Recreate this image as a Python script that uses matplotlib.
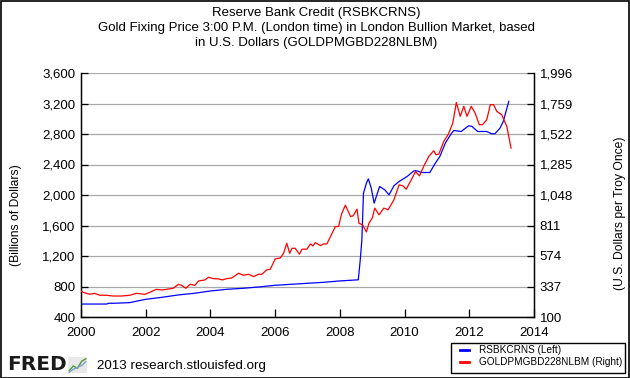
import matplotlib
matplotlib.use("Agg")
import matplotlib.pyplot as plt
from matplotlib.patches import Rectangle
from matplotlib.ticker import FuncFormatter

plt.rcParams['font.family'] = ['Liberation Sans', 'DejaVu Sans']

title_lines = ["Reserve Bank Credit (RSBKCRNS)",
               "Gold Fixing Price 3:00 P.M. (London time) in London Bullion Market, based",
               "in U.S. Dollars (GOLDPMGBD228NLBM)"]
left_label = "(Billions of Dollars)"
right_label = "(U.S. Dollars per Troy Once)"
legend_labels = ["RSBKCRNS (Left)", "GOLDPMGBD228NLBM (Right)"]

x_ticks = [2000, 2002, 2004, 2006, 2008, 2010, 2012, 2014]
left_ticks = [400, 800, 1200, 1600, 2000, 2400, 2800, 3200, 3600]
right_ticks = [100, 337, 574, 811, 1048, 1285, 1522, 1759, 1996]

rsbk_years = [2000.0, 2000.8, 2000.85, 2001.0, 2001.5, 2002.0, 2002.5, 2003.0, 2003.5,
              2004.0, 2004.5, 2005.0, 2005.5, 2006.0, 2006.5, 2007.0, 2007.5, 2008.0,
              2008.5, 2008.57, 2008.63, 2008.68, 2008.73, 2008.82, 2008.88, 2008.97,
              2009.06, 2009.16, 2009.23, 2009.39, 2009.52, 2009.67, 2009.83, 2010.08,
              2010.29, 2010.37, 2010.54, 2010.78, 2010.95, 2011.09, 2011.26, 2011.42,
              2011.52, 2011.75, 2011.98, 2012.08, 2012.26, 2012.54, 2012.69, 2012.79,
              2012.95, 2013.05, 2013.22]
rsbk_values = [570, 570, 580, 580, 588, 632, 658, 689, 711,
               741, 763, 776, 794, 816, 829, 842, 855, 873,
               886, 888, 1148, 1411, 2024, 2155, 2212, 2090,
               1892, 2024, 2111, 2067, 2002, 2120, 2177, 2243,
               2317, 2317, 2295, 2295, 2417, 2505, 2680, 2790,
               2846, 2833, 2908, 2900, 2833, 2833, 2803, 2803,
               2877, 2965, 3228]

gold_years = [2000.0, 2000.06, 2000.27, 2000.42, 2000.58, 2000.79, 2000.99, 2001.25,
              2001.51, 2001.71, 2001.97, 2002.13, 2002.33, 2002.49, 2002.64, 2002.85,
              2003.01, 2003.11, 2003.24, 2003.37, 2003.52, 2003.63, 2003.83, 2003.94,
              2004.09, 2004.25, 2004.37, 2004.5, 2004.66, 2004.87, 2005.02, 2005.18,
              2005.33, 2005.49, 2005.59, 2005.74, 2005.85, 2006.0, 2006.16, 2006.26,
              2006.36, 2006.45, 2006.52, 2006.62, 2006.75, 2006.83, 2006.98, 2007.09,
              2007.17, 2007.24, 2007.4, 2007.5, 2007.6, 2007.76, 2007.86, 2007.96,
              2008.05, 2008.17, 2008.33, 2008.41, 2008.53, 2008.59, 2008.7, 2008.82,
              2008.9, 2009.0, 2009.08, 2009.21, 2009.36, 2009.49, 2009.67, 2009.83,
              2009.95, 2010.05, 2010.18, 2010.34, 2010.46, 2010.59, 2010.75, 2010.9,
              2010.97, 2011.06, 2011.21, 2011.36, 2011.49, 2011.6, 2011.72, 2011.83,
              2011.93, 2012.06, 2012.18, 2012.31, 2012.41, 2012.54, 2012.65, 2012.75,
              2012.85, 2013.0, 2013.16, 2013.29]
gold_values = [302, 292, 276, 284, 269, 269, 263, 263,
               269, 284, 276, 292, 315, 310, 315, 323,
               354, 346, 323, 354, 346, 380, 388, 409,
               398, 396, 388, 398, 403, 440, 424, 432,
               414, 432, 432, 466, 471, 551, 559, 595,
               673, 595, 634, 634, 588, 627, 627, 668,
               652, 678, 655, 668, 668, 751, 803, 803,
               899, 969, 881, 886, 938, 829, 816, 761,
               829, 868, 946, 894, 946, 933, 1010, 1127,
               1119, 1093, 1153, 1231, 1197, 1270, 1348, 1392,
               1361, 1366, 1464, 1524, 1607, 1767, 1659, 1737,
               1659, 1737, 1685, 1594, 1594, 1633, 1750, 1750,
               1698, 1672, 1581, 1412]

W, H = 630, 378
fig = plt.figure(figsize=(W / 100, H / 100), dpi=100)
fig.patch.set_facecolor('white')

ax = fig.add_axes([81 / W, 1 - 317 / H, (534 - 81) / W, (317 - 73) / H])
ax2 = ax.twinx()

ax.plot(rsbk_years, rsbk_values, color='#0000ff', lw=0.9, zorder=3)
ax2.plot(gold_years, gold_values, color='#ff0000', lw=0.9, zorder=3)

ax.set_xlim(x_ticks[0], x_ticks[-1])
ax.set_ylim(left_ticks[0], left_ticks[-1])
ax2.set_ylim(right_ticks[0], right_ticks[-1])
ax.set_xticks(x_ticks)
ax.set_yticks(left_ticks)
ax2.set_yticks(right_ticks)
comma = FuncFormatter(lambda v, p: f"{int(round(v)):,}")
ax.yaxis.set_major_formatter(comma)
ax2.yaxis.set_major_formatter(comma)

ax.grid(axis='y', color='#a8a8a8', lw=0.9)
ax.set_axisbelow(True)
for a in (ax, ax2):
    a.spines['top'].set_visible(False)
    for s in ('left', 'right', 'bottom'):
        a.spines[s].set_color('black')
        a.spines[s].set_linewidth(0.9)
ax.tick_params(axis='y', direction='in', length=5, width=0.9, labelsize=9.5,
               colors='black', pad=4)
ax2.tick_params(axis='y', direction='in', length=5, width=0.9, labelsize=9.5,
                colors='black', pad=4)
ax.tick_params(axis='x', direction='in', length=6, width=0.9, labelsize=9.5,
               colors='black', pad=7)

fig.text(16 / W, 1 - 215 / H, left_label, rotation=90, ha='center', va='center',
         fontsize=8.7)
fig.text(620 / W, 1 - 213 / H, right_label, rotation=90, ha='center', va='center',
         fontsize=8.7)

ys = [13, 28, 43]
for t, y in zip(title_lines, ys):
    fig.text(316 / W, 1 - y / H, t, ha='center', va='center', fontsize=9.5)

# legend box
leg_x0, leg_y0, leg_x1, leg_y1 = 451, 343, 625, 373
fig.patches.append(Rectangle((leg_x0 / W, 1 - leg_y1 / H), (leg_x1 - leg_x0) / W,
                             (leg_y1 - leg_y0) / H, transform=fig.transFigure,
                             fill=False, edgecolor='black', lw=1))
for lbl, col, y in zip(legend_labels, ['#0000ff', '#ff0000'], [350, 362]):
    fig.lines.append(plt.Line2D([460 / W, 469 / W], [1 - y / H, 1 - y / H],
                                transform=fig.transFigure, color=col, lw=2))
    fig.text(479 / W, 1 - y / H, lbl, ha='left', va='center', fontsize=7.2)

# FRED branding
fig.text(7 / W, 1 - 365 / H, "FRED", ha='left', va='center', fontsize=14.5,
         fontweight='heavy', color='#1a1a1a', family=['DejaVu Sans'])
icon = fig.add_axes([68 / W, 1 - 373 / H, 19 / W, 16 / H])
icon.set_facecolor('#e8e8e8')
icon.plot([0, 1, 2, 3, 4], [0.5, 1.5, 1.0, 2.5, 3.0], color='#4a9a3a', lw=1)
icon.plot([0, 1, 2, 3, 4], [0.2, 0.8, 1.2, 1.6, 2.4], color='#7aa0d0', lw=1)
icon.set_xlim(-0.3, 4.3)
icon.set_ylim(0, 3.4)
icon.set_xticks([])
icon.set_yticks([])
for s in icon.spines.values():
    s.set_visible(False)
fig.text(97 / W, 1 - 366 / H, "2013 research.stlouisfed.org", ha='left', va='center',
         fontsize=9.6)

# outer frame
fig.patches.append(Rectangle((0.5 / W, 0.5 / H), (W - 1.5) / W, (H - 1.5) / H,
                             transform=fig.transFigure, fill=False,
                             edgecolor='black', lw=1.2))

fig.savefig("out.png", dpi=100)
